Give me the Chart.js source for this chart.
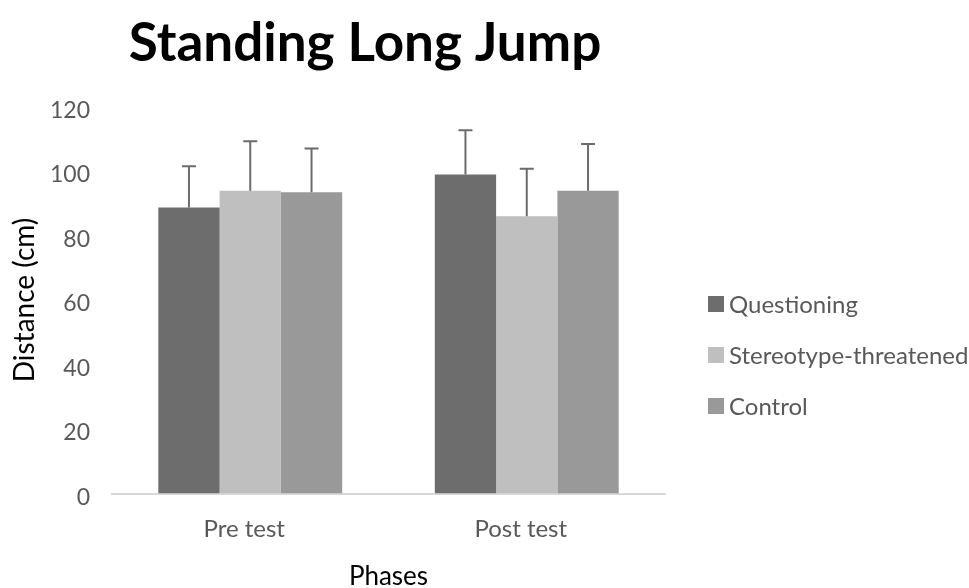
<!doctype html>
<html>
<head>
	<title>Standing Long Jump</title>
	<script src="https://cdn.jsdelivr.net/npm/chart.js@4.4.1/dist/chart.umd.min.js"></script>
	<style>
		body { margin: 0; background: #fff; }
		#container { width: 969px; height: 588px; }
	</style>
</head>
<body>
<div id="container">
	<canvas id="canvas" width="969" height="588"></canvas>
</div>
<script>
	// values
	var phases = ['Pre test', 'Post test'];
	var groupNames = ['Questioning', 'Stereotype-threatened', 'Control'];
	var questioning = [88.7, 98.9];
	var stereotype = [93.9, 86.0];
	var control = [93.4, 93.9];
	var questioningErr = [12.8, 13.7];
	var stereotypeErr = [15.3, 14.7];
	var controlErr = [13.6, 14.5];
	var yMin = 0, yMax = 120, yStep = 20;

	var FONT = 'Lato';

	// plus-only error bars, drawn through the y scale
	var errorBars = {
		id: 'errorBars',
		afterDatasetsDraw: function(chart) {
			var ctx = chart.ctx;
			var yScale = chart.scales.y;
			ctx.save();
			ctx.strokeStyle = '#6b6b6b';
			ctx.lineWidth = 2;
			chart.data.datasets.forEach(function(ds, i) {
				var meta = chart.getDatasetMeta(i);
				meta.data.forEach(function(bar, j) {
					var top = yScale.getPixelForValue(ds.data[j] + ds.errors[j]);
					ctx.beginPath();
					ctx.moveTo(bar.x, bar.y);
					ctx.lineTo(bar.x, top);
					ctx.moveTo(bar.x - 7, top);
					ctx.lineTo(bar.x + 7, top);
					ctx.stroke();
				});
			});
			ctx.restore();
		}
	};

	// title and legend sit where the original put them
	var decorations = {
		id: 'decorations',
		afterDraw: function(chart) {
			var ctx = chart.ctx;
			ctx.save();
			ctx.font = 'bold 53px ' + FONT;
			ctx.fillStyle = '#000';
			ctx.textAlign = 'center';
			ctx.textBaseline = 'alphabetic';
			ctx.fillText('Standing Long Jump', 365, 61);

			ctx.font = '24px ' + FONT;
			ctx.textAlign = 'left';
			ctx.textBaseline = 'middle';
			chart.data.datasets.forEach(function(ds, i) {
				var cy = 304 + i * 51;
				ctx.fillStyle = ds.backgroundColor;
				ctx.fillRect(708, cy - 8, 16, 16);
				ctx.fillStyle = '#595959';
				ctx.fillText(ds.label, 729, cy + 1);
			});
			ctx.restore();
		}
	};

	var ctx = document.getElementById('canvas').getContext('2d');
	var chart = new Chart(ctx, {
		type: 'bar',
		data: {
			labels: phases,
			datasets: [{
				label: groupNames[0],
				data: questioning,
				errors: questioningErr,
				backgroundColor: '#6d6d6d'
			}, {
				label: groupNames[1],
				data: stereotype,
				errors: stereotypeErr,
				backgroundColor: '#bfbfbf'
			}, {
				label: groupNames[2],
				data: control,
				errors: controlErr,
				backgroundColor: '#999999'
			}]
		},
		options: {
			responsive: false,
			animation: false,
			devicePixelRatio: 1,
			layout: { padding: { top: 106.5, left: 0, right: 304, bottom: 0 } },
			datasets: { bar: { barPercentage: 1, categoryPercentage: 0.665 } },
			plugins: {
				title: { display: false },
				tooltip: { enabled: false },
				legend: { display: false }
			},
			scales: {
				x: {
					grid: { display: false, drawTicks: false },
					border: { display: true, color: '#d9d9d9', width: 2 },
					ticks: { color: '#595959', padding: 21, labelOffset: -6, font: { family: FONT, size: 24 } },
					title: { display: true, text: 'Phases', color: '#000', font: { family: FONT, size: 26 }, padding: { top: 0, bottom: -4 } },
					afterFit: function(scale) { scale.height = 94.5; }
				},
				y: {
					min: yMin,
					max: yMax,
					grid: { display: false, drawTicks: false },
					border: { display: false },
					ticks: { stepSize: yStep, color: '#595959', padding: 22, labelOffset: 4, font: { family: FONT, size: 23 } },
					title: { display: true, text: 'Distance (cm)', color: '#000', font: { family: FONT, size: 28 }, padding: { top: 8, bottom: 0 } },
					afterFit: function(scale) { scale.width = 112; }
				}
			}
		},
		plugins: [errorBars, decorations]
	});
</script>
</body>
</html>
